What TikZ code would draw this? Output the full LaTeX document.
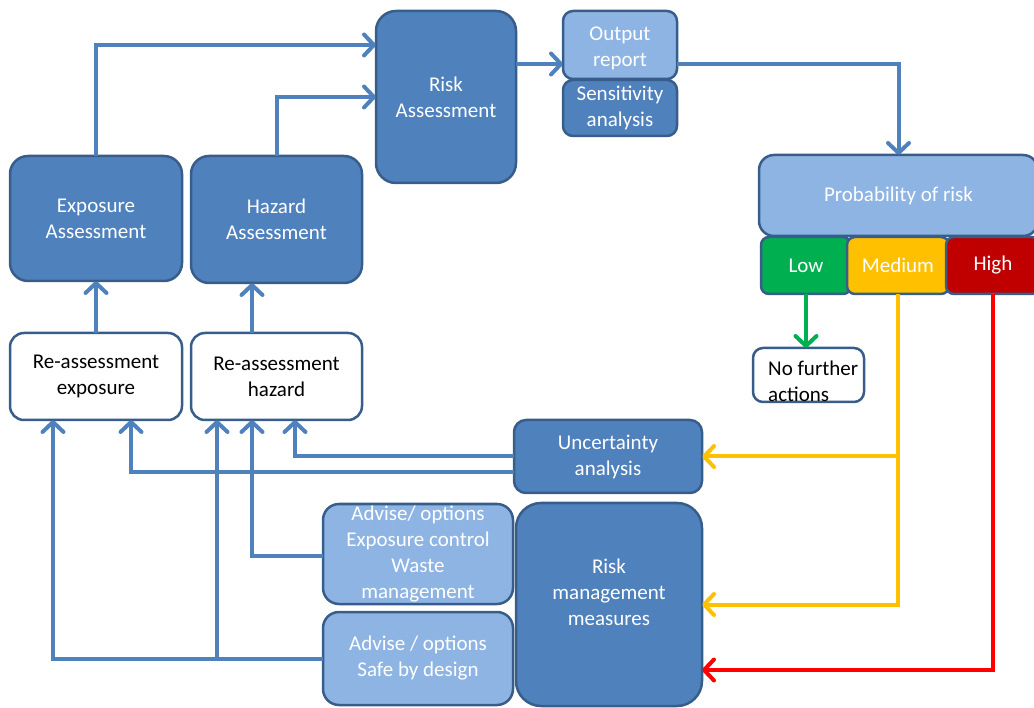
\documentclass[tikz,border=0pt]{standalone}
\usepackage{fontspec}
\setmainfont{Carlito}
\usetikzlibrary{arrows.meta}
\definecolor{dkfill}{HTML}{4F81BD}
\definecolor{bord}{HTML}{385D8A}
\definecolor{ltfill}{HTML}{8EB4E3}
\definecolor{lnblue}{HTML}{4F81BD}
\definecolor{yel}{HTML}{FFC000}
\definecolor{grn}{HTML}{00B050}
\definecolor{redl}{HTML}{FF0000}
\definecolor{hifill}{HTML}{C00000}
\begin{document}
\begin{tikzpicture}[x=1pt,y=-1pt,
  box/.style={draw=bord, line width=2.5pt, inner sep=0pt, outer sep=0pt, align=center,
    font=\fontsize{21}{26}\selectfont, rounded corners=18pt},
  dk/.style={box, fill=dkfill, text=white},
  lt/.style={box, fill=ltfill, text=white},
  wt/.style={box, fill=white, text=black},
  txt/.style={inner sep=0pt, align=center, font=\fontsize{21}{26}\selectfont},
  tip/.style={-{Straight Barb[length=10pt,width=21pt,round]}},
  conn/.style={draw=lnblue, line width=4pt, tip},
  grnc/.style={draw=grn, line width=4pt, tip},
  yelc/.style={draw=yel, line width=4pt, tip},
  redc/.style={draw=redl, line width=4pt, tip}]
\useasboundingbox (0,0) rectangle (1034,708);
% nodes
\node[dk, minimum width=172pt, minimum height=125pt] (expA) at (96,218.5) {Exposure\\Assessment};
\node[dk, minimum width=171pt, minimum height=127pt] (hazA) at (276.5,219.5) {Hazard\\Assessment};
\node[dk, minimum width=140pt, minimum height=172pt, rounded corners=20pt] (riskA) at (446,97) {Risk\\Assessment};
\node[lt, minimum width=114pt, minimum height=68pt, rounded corners=10pt] (out) at (620,45) {};
\node[txt, text=white] (outt) at (620,48) {Output\\report};
\node[dk, minimum width=114pt, minimum height=56pt, rounded corners=10pt] (sens) at (620,108) {Sensitivity\\analysis};
\node[lt, minimum width=279pt, minimum height=81pt, rounded corners=15pt] (prob) at (898.5,195.5) {Probability of risk};
\node[box, fill=grn, text=white, minimum width=90pt, minimum height=57pt, rounded corners=8pt] (low) at (806,265.5) {Low};
\node[box, fill=yel, text=white, minimum width=102pt, minimum height=57pt, rounded corners=8pt] (med) at (898,265.5) {Medium};
\node[box, fill=hifill, text=white, minimum width=94pt, minimum height=57pt, rounded corners=8pt] (high) at (993,265.5) {High};
\node[wt, minimum width=111pt, minimum height=54pt, rounded corners=10pt] (nf) at (808.5,375) {};
\node[txt, anchor=north west, align=left] (nft) at (768,361) {No further\\actions};
\node[wt, minimum width=172pt, minimum height=87pt, rounded corners=14pt] (reE) at (96,376.5) {Re-assessment\\exposure};
\node[wt, minimum width=171pt, minimum height=87pt, rounded corners=14pt] (reH) at (276.5,376.5) {Re-assessment\\hazard};
\node[dk, minimum width=188pt, minimum height=73pt, rounded corners=12pt] (unc) at (608,456.5) {Uncertainty\\analysis};
\node[lt, minimum width=190pt, minimum height=100pt, rounded corners=16pt] (adv1) at (418,554) {Advise/ options\\Exposure control\\Waste\\management};
\node[lt, minimum width=190pt, minimum height=93pt, rounded corners=16pt] (adv2) at (418,658.5) {Advise / options\\Safe by design};
\node[dk, minimum width=186pt, minimum height=203pt, rounded corners=25pt] (rmm) at (609,604.5) {};
\node[txt, text=white] (rmmt) at (609,592) {Risk\\management\\measures};
% connectors
\coordinate (ya) at ([yshift=-19pt]out.west);
\coordinate (hzL) at ([xshift=-59.5pt]reH.south);
\draw[conn] (expA.north) |- ([yshift=52pt]riskA.west);
\draw[conn] (hazA.north) |- (riskA.west);
\draw[conn] (riskA.east |- ya) -- (ya);
\draw[conn] (out.east |- ya) -| (prob.north);
\draw[grnc] (low.south) -- (low.south |- nf.north);
\draw[yelc] (med.south) |- (rmm.east);
\draw[yelc] (med.south |- unc.east) -- (unc.east);
\draw[redc] (high.south) |- ([yshift=-65.5pt]rmm.east);
\draw[conn] (unc.west) -| ([xshift=18.5pt]reH.south);
\draw[conn] ([yshift=-15.5pt]unc.west) -| ([xshift=35pt]reE.south);
\draw[conn] ([yshift=-2pt]adv1.west) -| ([xshift=-24.5pt]reH.south);
\draw[conn] (adv2.west) -| ([xshift=-43pt]reE.south);
\draw[conn] (hzL |- adv2.west) -- (hzL);
\draw[conn] ([xshift=-24.5pt]reH.north) -- ([xshift=-24.5pt]hazA.south);
\draw[conn] (reE.north) -- (expA.south);
\end{tikzpicture}
\end{document}
